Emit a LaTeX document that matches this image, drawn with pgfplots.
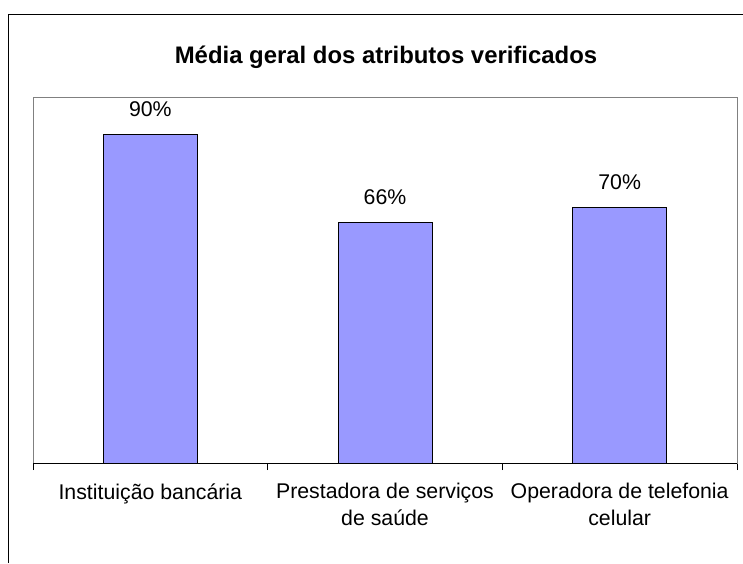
\documentclass[border=0pt]{standalone}
\usepackage{fontspec}
\setmainfont{Liberation Sans}
\usepackage{pgfplots}
\pgfplotsset{compat=1.18}
\definecolor{barfill}{HTML}{9999FF}
\definecolor{boxgray}{HTML}{808080}

\begin{document}
\begin{tikzpicture}[x=1pt,y=1pt]
\useasboundingbox (0,0) rectangle (743,563);
% outer chart frame (cut off at right and bottom)
\draw[black, line width=1pt] (8,0) -- (8,548) -- (743,548);
\node[font=\bfseries\fontsize{23.9}{28}\selectfont] at (386,506) {Média geral dos atributos verificados};

\begin{axis}[
    at={(33pt,100pt)}, anchor=south west,
    width=704pt, height=365pt, scale only axis,
    xmin=-0.5, xmax=2.5,
    ymin=0, ymax=100,
    axis line style={boxgray, line width=1pt},
    ytick=\empty,
    xtick={0,1,2},
    xticklabels={Instituição bancária, {Prestadora de serviços\\de saúde}, {Operadora de telefonia\\celular}},
    xticklabel style={align=center, font=\fontsize{21.3}{27}\selectfont, yshift=-17pt},
    major tick length=0pt,
    minor xtick={-0.5,0.5,1.5,2.5},
    minor tick length=7pt,
    minor tick style={black, line width=0.8pt},
    tick align=outside,
    xtick pos=bottom,
    ybar, bar width=94pt,
    /pgf/number format/assume math mode=true,
    nodes near coords={\pgfmathprintnumber{\pgfplotspointmeta}\%},
    every node near coord/.append style={font=\fontsize{21.3}{24}\selectfont, black, anchor=base, yshift=18pt},
    clip=false,
]
\addplot[fill=barfill, draw=black, line width=1pt] coordinates {(0,90) (1,66) (2,70)};
\draw[black, line width=1pt] (rel axis cs:0,0) -- (rel axis cs:1,0);
\end{axis}
\end{tikzpicture}
\end{document}
